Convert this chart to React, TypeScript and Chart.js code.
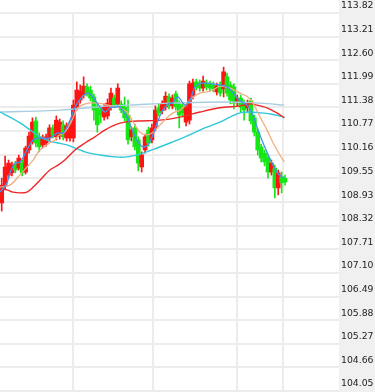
import React, { useEffect, useRef } from "react";
import { Chart, registerables } from "chart.js";
Chart.register(...registerables);

const OPEN = [108.91,109.35,109.63,109.69,109.92,109.81,109.94,109.71,110.28,110.49,111.03,110.62,110.41,110.46,110.59,110.85,110.62,110.64,110.93,110.59,110.59,110.59,111.39,111.57,111.70,111.91,111.83,111.65,111.37,111.31,111.13,111.16,111.39,111.62,111.47,111.47,111.39,111.18,110.62,110.85,110.54,109.84,110.28,110.80,110.54,110.85,111.37,111.29,111.39,111.65,111.42,111.73,111.47,111.42,111.00,111.05,111.67,112.04,112.01,111.88,112.01,111.99,111.96,111.78,111.96,111.86,112.17,111.96,111.91,111.52,111.62,111.49,111.37,111.55,111.11,110.74,110.36,110.20,110.07,109.71,109.81,109.30,109.58,109.55];
const HIGH = [109.55,110.12,110.02,109.97,109.99,110.15,110.02,110.38,110.74,111.11,111.13,110.72,110.67,110.69,110.93,110.93,111.16,111.08,111.03,110.98,111.03,111.57,112.04,111.96,112.17,111.99,111.93,111.73,111.47,111.42,111.47,111.60,111.88,111.70,111.99,111.55,111.65,111.57,110.87,110.95,110.62,110.23,110.69,110.87,110.95,111.42,111.47,111.55,111.78,111.73,111.70,111.80,111.55,111.49,111.44,112.06,112.11,112.11,112.09,112.19,112.09,112.06,112.04,112.01,112.04,112.42,112.27,112.04,111.99,111.70,111.70,111.57,111.57,111.62,111.18,110.82,110.43,110.28,110.15,110.02,109.89,109.76,109.71,109.63];
const LOW = [108.70,109.25,109.55,109.61,109.69,109.76,109.61,109.66,110.20,110.43,110.36,110.23,110.33,110.38,110.51,110.59,110.54,110.56,110.54,110.51,110.51,110.49,111.31,111.49,111.62,111.67,111.55,111.05,110.74,110.98,111.05,111.08,111.31,111.37,111.39,111.24,111.03,110.43,110.51,110.28,109.74,109.71,110.20,110.38,110.46,110.77,111.16,111.21,111.31,111.34,111.34,111.31,110.85,111.13,110.90,110.95,111.60,111.83,111.80,111.80,111.83,111.80,111.78,111.70,111.67,111.65,111.67,111.47,111.34,111.42,111.26,111.05,111.26,110.95,110.64,110.15,109.97,109.87,109.55,109.63,109.04,109.12,109.17,109.37];
const CLOSE = [109.37,109.84,109.94,109.89,109.76,110.07,109.69,110.33,110.64,111.00,110.46,110.36,110.59,110.62,110.85,110.67,111.05,111.00,110.62,110.90,110.93,111.44,111.83,111.80,111.93,111.75,111.62,111.31,110.93,111.18,111.39,111.49,111.75,111.44,111.88,111.31,111.11,110.54,110.80,110.36,109.94,110.15,110.62,110.46,110.85,111.31,111.24,111.47,111.67,111.42,111.62,111.39,111.18,111.24,111.37,111.99,112.01,111.91,111.88,112.06,111.91,111.88,111.86,111.93,111.75,112.30,111.75,111.57,111.49,111.62,111.39,111.31,111.49,111.03,110.74,110.28,110.07,109.97,109.71,109.94,109.30,109.69,109.43,109.45];

const MA5 = [[-0.5,109.19],[1.55,109.43],[2.4,109.69],[3.9,109.94],[5.4,109.97],[7.4,110.28],[9.2,110.54],[11.2,110.59],[14.1,110.59],[16.5,110.72],[18.0,110.72],[20.0,111.05],[21.5,111.39],[23.5,111.65],[25.3,111.75],[26.7,111.65],[28.8,111.39],[30.3,111.26],[31.7,111.37],[33.2,111.39],[34.6,111.39],[36.7,111.13],[38.5,110.74],[39.9,110.49],[41.4,110.36],[42.8,110.41],[44.3,110.67],[45.8,111.05],[47.2,111.31],[48.7,111.47],[49.9,111.49],[51.6,111.65],[53.7,111.44],[55.2,111.57],[56.6,111.91],[58.7,112.01],[61.6,111.99],[63.9,111.96],[66.0,111.91],[67.5,111.78],[68.9,111.62],[70.4,111.52],[71.8,111.44],[73.3,111.24],[74.8,110.87],[76.2,110.54],[77.7,110.23],[79.2,109.94],[80.6,109.71],[82.1,109.58],[82.8,109.58]];
const MA10 = [[-0.5,109.32],[2.4,109.37],[4.8,109.58],[7.4,109.84],[9.2,110.02],[11.2,110.28],[14.1,110.46],[15.6,110.54],[16.5,110.64],[18.5,110.74],[20.6,111.05],[22.3,111.37],[25.3,111.49],[28.2,111.49],[31.1,111.44],[33.2,111.39],[34.6,111.37],[36.7,111.26],[38.5,111.00],[40.5,110.74],[42.6,110.67],[44.3,110.74],[46.4,110.93],[48.4,111.11],[50.2,111.24],[52.2,111.31],[54.3,111.49],[56.0,111.65],[58.1,111.75],[60.1,111.78],[61.9,111.83],[63.9,111.93],[66.9,111.88],[69.8,111.75],[72.1,111.65],[73.6,111.49],[75.7,111.13],[77.7,110.80],[79.5,110.46],[81.5,110.15],[82.8,109.97]];
const MA30 = [[-0.5,109.30],[1.55,109.25],[3.3,109.19],[5.4,109.17],[7.4,109.19],[9.2,109.32],[11.2,109.50],[14.1,109.76],[16.5,109.89],[18.5,110.02],[21.5,110.28],[24.4,110.46],[27.3,110.62],[30.3,110.80],[33.2,110.93],[36.1,111.00],[40.5,111.03],[46.4,111.05],[52.2,111.13],[58.1,111.26],[63.9,111.37],[69.8,111.42],[72.7,111.47],[74.8,111.44],[77.7,111.37],[80.6,111.24],[82.8,111.11]];
const MA60 = [[-0.5,111.26],[2.4,111.13],[5.4,110.98],[8.3,110.80],[11.2,110.62],[14.1,110.51],[16.5,110.46],[19.1,110.41],[24.4,110.23],[28.8,110.15],[33.2,110.10],[36.7,110.10],[41.4,110.20],[45.5,110.33],[49.3,110.46],[53.7,110.62],[59.5,110.85],[63.9,111.00],[66.9,111.13],[69.8,111.24],[72.7,111.26],[75.7,111.24],[78.6,111.21],[82.8,111.13]];
const MA120 = [[-0.5,111.26],[17.1,111.31],[31.7,111.42],[37.6,111.44],[49.3,111.49],[64.8,111.52],[75.7,111.49],[82.8,111.44]];

const Y_TICKS = [113.82,113.21,112.60,111.99,111.38,110.77,110.16,109.55,108.93,108.32,107.71,107.10,106.49,105.88,105.27,104.66,104.05];
const X_DIVIDERS = [20.9, 44.3, 68.9, 82.4];

const UP = "#ff1414";
const DOWN = "#16e616";

export default function App() {
  const ref = useRef<HTMLCanvasElement>(null);
  useEffect(() => {
    const idx = OPEN.map((_, i) => i);
    const colors = idx.map((i) => (CLOSE[i] >= OPEN[i] ? UP : DOWN));
    const bgPlugin = {
      id: "axisBg",
      beforeDraw(chart: any) {
        const { ctx, chartArea, width, height } = chart;
        ctx.save();
        ctx.fillStyle = "#f0f0f0";
        ctx.fillRect(chartArea.right, 0, width - chartArea.right, height);
        ctx.restore();
      },
    };
    const line = (label: string, pts: number[][], color: string, w: number) => ({
      type: "line",
      label,
      data: pts.map(([x, y]) => ({ x, y })),
      borderColor: color,
      borderWidth: w,
      pointRadius: 0,
      tension: 0.3,
      fill: false,
      order: 0,
    });
    const chart = new Chart(ref.current as HTMLCanvasElement, {
      type: "bar",
      data: {
        datasets: [
          line("MA5", MA5, "#3f95f0", 1.3),
          line("MA10", MA10, "#f0ae84", 1.3),
          line("MA30", MA30, "#ee2828", 1.4),
          line("MA60", MA60, "#2ec8d8", 1.4),
          line("MA120", MA120, "#a6cde0", 1.4),
          {
            type: "bar",
            label: "body",
            data: idx.map((i) => ({ x: i, y: [OPEN[i], CLOSE[i]] })),
            backgroundColor: colors,
            barThickness: 4,
            grouped: false,
            minBarLength: 1,
            borderWidth: 0,
            order: 1,
          },
          {
            type: "bar",
            label: "wick",
            data: idx.map((i) => ({ x: i, y: [LOW[i], HIGH[i]] })),
            backgroundColor: colors,
            barThickness: 1,
            grouped: false,
            borderWidth: 0,
            order: 2,
          },
        ] as any,
      },
      options: {
        animation: false,
        responsive: false,
        devicePixelRatio: 1,
        layout: { padding: { top: 13, bottom: 1, left: 0, right: 0 } },
        plugins: { legend: { display: false }, tooltip: { enabled: false } },
        scales: {
          x: {
            type: "linear",
            min: -0.5,
            max: 98.8,
            offset: false,
            afterBuildTicks: (s: any) => {
              s.ticks = X_DIVIDERS.map((v) => ({ value: v }));
            },
            afterFit: (s: any) => {
              s.height = 0;
            },
            ticks: { display: false },
            grid: { color: "#ececec", lineWidth: 2, drawTicks: false, offset: false },
            border: { display: false },
          },
          y: {
            position: "right",
            min: 104.05,
            max: 113.82,
            afterBuildTicks: (s: any) => {
              s.ticks = Y_TICKS.map((v) => ({ value: v }));
            },
            afterFit: (s: any) => {
              s.width = 36;
              s.paddingTop = 0;
              s.paddingBottom = 0;
            },
            ticks: {
              callback: (v: any) => Number(v).toFixed(2),
              padding: 2,
              labelOffset: -7,
              autoSkip: false,
              color: "#222222",
              font: { family: "DejaVu Sans", size: 9.3 },
            },
            grid: { color: "#ececec", lineWidth: 2, drawTicks: false },
            border: { display: false },
          },
        },
      } as any,
      plugins: [bgPlugin],
    });
    return () => chart.destroy();
  }, []);
  return (
    <div style={{ position: "fixed", left: 0, top: 0, width: 375, height: 392, background: "#ffffff" }}>
      <canvas ref={ref} width={375} height={392} style={{ display: "block" }} />
    </div>
  );
}
